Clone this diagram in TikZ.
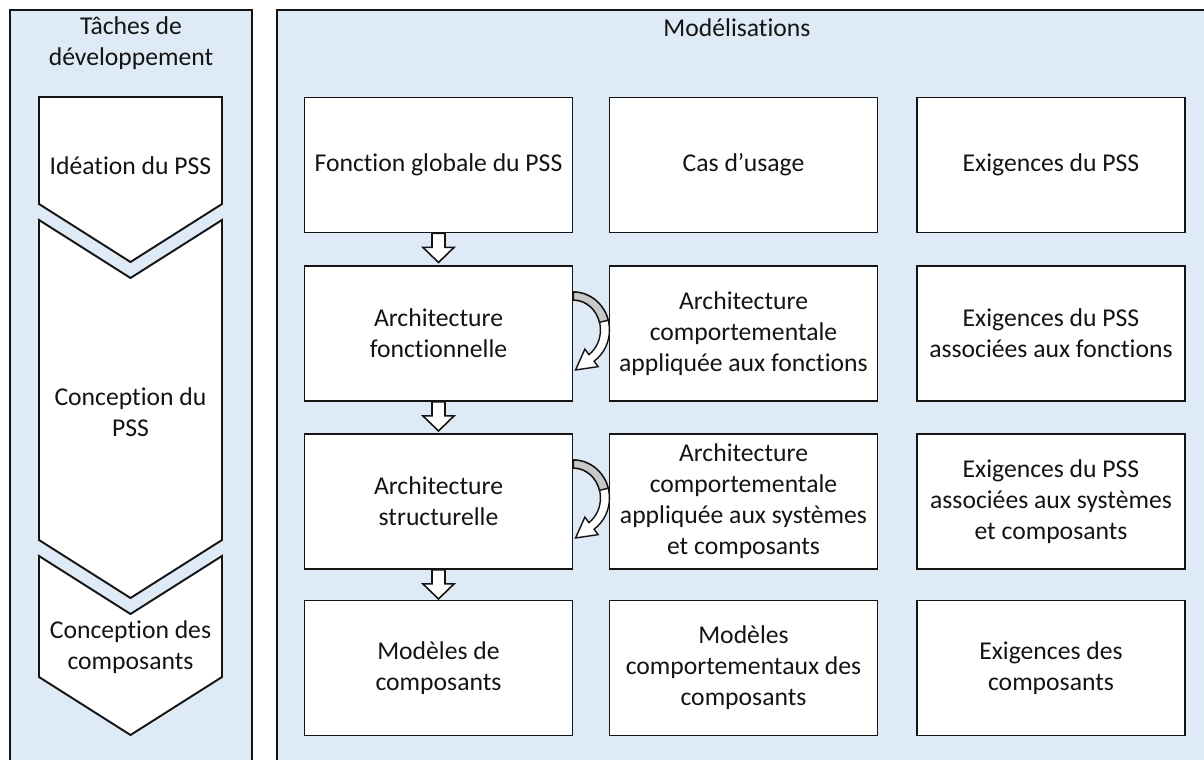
\documentclass[tikz,border=0pt]{standalone}
\usepackage{fontspec}
\setmainfont{Carlito}[Ligatures=NoCommon]
\usetikzlibrary{positioning}
\definecolor{ink}{RGB}{20, 20, 20}
\definecolor{panelblue}{RGB}{222, 234, 246}
\definecolor{curlgray}{RGB}{200, 200, 200}
\tikzset{
  downarr/.pic={
    \draw[line width=0.9pt, draw=ink, fill=white] (-6.5,0) -- (6.5,0) -- (6.5,14) -- (15.5,14) -- (0,29) -- (-15.5,14) -- (-6.5,14) -- cycle;
  },
  curlarr/.pic={
    \draw[line width=0.8pt, draw=ink, fill=white] (0,27) .. controls (19.9,27) and (36,44) .. (36,65) .. controls (36,77.4) and (30.27,89.02) .. (20.65,96.13) -- (24.7,101.6) -- (2.1,104.9) -- (11.44,84.07) -- (15.49,89.58) .. controls (22.71,83.96) and (27,74.79) .. (27,65) .. controls (27,48.43) and (14.91,35) .. (0,35) -- cycle;
    \draw[line width=0.8pt, draw=ink, fill=curlgray] (0,27) .. controls (16.3,27) and (30.55,38.56) .. (34.77,55.17) -- (26.08,57.24) .. controls (22.92,44.12) and (12.22,35) .. (0,35) -- cycle;
  },
}

\begin{document}
\begin{tikzpicture}[
    x=0.02cm, y=-0.02cm,
    panel/.style={draw=ink, line width=1.1pt, fill=panelblue},
    chev/.style={draw=ink, line width=1.1pt, fill=white},
    title/.style={font=\fontsize{14.6}{17.6}\selectfont\color{ink}, align=center},
    box/.style={draw=ink, line width=1.1pt, fill=white, minimum width=5.36cm, minimum height=2.7cm,
      inner sep=2pt, align=center, font=\fontsize{14.6}{17.6}\selectfont\color{ink}},
  ]
    \useasboundingbox (0,0) rectangle (1204,760);
    \clip (0,0) rectangle (1204,760);

    % panels
    \fill[white] (0,0) rectangle (1204,760);
    \draw[panel] (10,10) rectangle (252,800);
    \draw[panel] (277,10) rectangle (1240,800);
    \node[title] (taches) at (131,43) {Tâches de\\développement};
    \node[title] (modelis) at (737,28) {Modélisations};

    % development tasks
    \draw[chev] (39,97) -- (222,97) -- (222,204) -- (130.5,262) -- (39,204) -- cycle;
    \draw[chev] (39,220) -- (130.5,278) -- (222,220) -- (222,540) -- (130.5,598) -- (39,540) -- cycle;
    \draw[chev] (39,556) -- (130.5,614) -- (222,556) -- (222,677) -- (130.5,735) -- (39,677) -- cycle;
    \node[title] (ideation) at (130.5,166) {Idéation du PSS};
    \node[title] (concpss) at (130.5,412) {Conception du\\PSS};
    \node[title] (conccomp) at (130.5,647) {Conception des\\composants};

    % models
    \node[box] (fga) at (438.5,165) {Fonction globale du PSS};
    \node[box] (cas) at (743.5,165) {Cas d’usage};
    \node[box] (exi) at (1051,165) {Exigences du PSS};

    \node[box] (arf) at (438.5,333.5) {Architecture\\fonctionnelle};
    \node[box] (acf) at (743.5,333.5) {Architecture\\comportementale\\appliquée aux fonctions};
    \node[box] (exf) at (1051,333.5) {Exigences du PSS\\associées aux fonctions};

    \node[box] (ars) at (438.5,501.5) {Architecture\\structurelle};
    \node[box] (acs) at (743.5,501.5) {Architecture\\comportementale\\appliquée aux systèmes\\et composants};
    \node[box] (exs) at (1051,501.5) {Exigences du PSS\\associées aux systèmes\\et composants};

    \node[box] (mod) at (438.5,668) {Modèles de\\composants};
    \node[box] (mcc) at (743.5,668) {Modèles\\comportementaux des\\composants};
    \node[box] (exc) at (1051,668) {Exigences des\\composants};

    % block arrows
    \pic at (fga.south) {downarr};
    \pic at (arf.south) {downarr};
    \pic at (ars.south) {downarr};
    \pic at (arf.north east) {curlarr};
    \pic at (ars.north east) {curlarr};

  \end{tikzpicture}
\end{document}
